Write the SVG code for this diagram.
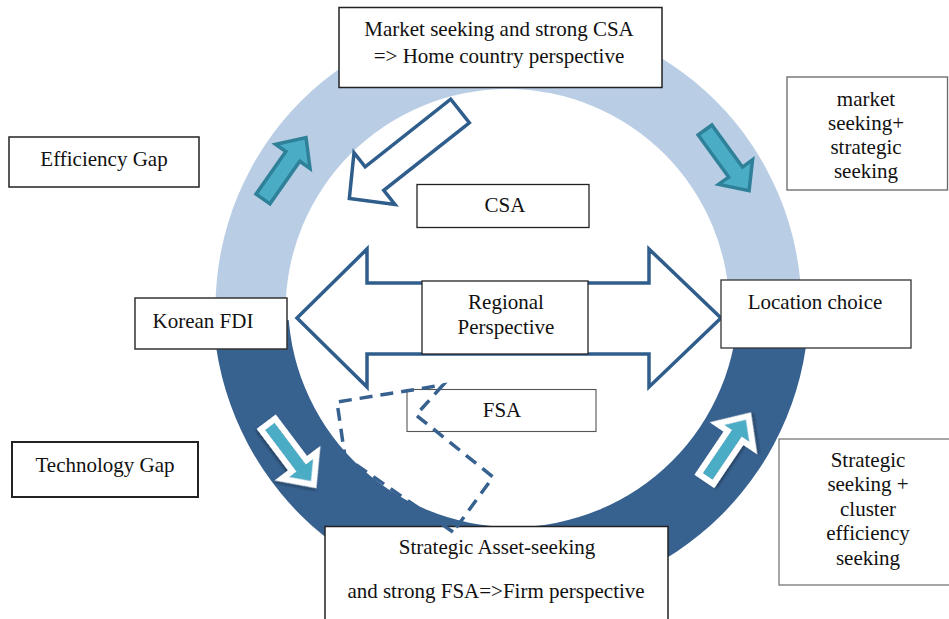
<svg xmlns="http://www.w3.org/2000/svg" width="949" height="619" viewBox="0 0 949 619">
<style>
text{font-family:"Liberation Serif","Times New Roman",serif;font-size:21px;fill:#111;text-anchor:middle}
.box{fill:#fff;stroke:#222;stroke-width:1.5}
.gbox{fill:#fff;stroke:#666;stroke-width:1.3}
.tealUp{fill:#4bacc6;stroke:#2e8199;stroke-width:3.5;stroke-linejoin:miter}
.tealLow{fill:#4bacc6;stroke:#fff;stroke-width:6;stroke-linejoin:miter}
.outline{fill:#fff;stroke:#2f5d8c;stroke-width:3.5;stroke-linejoin:miter}
.dash{fill:none;stroke:#37618f;stroke-width:3.5;stroke-dasharray:13 8}
</style>
<defs>
<clipPath id="clipTop"><rect x="0" y="0" width="949" height="320"/></clipPath>
<clipPath id="clipBot"><rect x="0" y="320" width="949" height="300"/></clipPath>
<path id="arrUp" d="M0,-8.5 L52,-8.5 L52,-21 L75,0 L52,21 L52,8.5 L0,8.5 Z"/>
<path id="arrLow" d="M0,-9 L52,-9 L52,-22 L76,0 L52,22 L52,9 L0,9 Z"/>
<filter id="shadow" x="-30%" y="-30%" width="160%" height="160%">
<feDropShadow dx="1" dy="2" stdDeviation="1.5" flood-color="#000" flood-opacity="0.35"/>
</filter>
</defs>

<g id="ring">
<path clip-path="url(#clipTop)" fill="#b9cde5" fill-rule="evenodd" d="M215.5,308 a293,293 0 1,0 586,0 a293,293 0 1,0 -586,0 Z M285.5,311 a222,222 0 1,0 444,0 a222,222 0 1,0 -444,0 Z"/>
<path clip-path="url(#clipBot)" fill="#37618f" fill-rule="evenodd" d="M213,304 a298,298 0 1,0 596,0 a298,298 0 1,0 -596,0 Z M288,302 a225,225 0 1,0 450,0 a225,225 0 1,0 -450,0 Z"/>
</g>

<g id="connectors">
<use href="#arrUp" class="tealUp" transform="translate(263,199) rotate(-55)"/>
<use href="#arrUp" class="tealUp" transform="translate(705,130) rotate(54)"/>
<use href="#arrLow" class="tealLow" filter="url(#shadow)" transform="translate(268,424) rotate(53)"/>
<use href="#arrLow" class="tealLow" filter="url(#shadow)" transform="translate(706,479) rotate(-56)"/>
<path class="outline" transform="translate(460,111) rotate(141.7)" d="M0,-15 L109,-15 L109,-33 L141,0 L109,33 L109,15 L0,15 Z"/>
<path class="outline" d="M297,318 L367,249 L367,283 L649,283 L649,249 L721,318 L649,387 L649,354 L367,354 L367,387 Z"/>
</g>

<g id="node-home">
<rect class="box" x="339" y="7.5" width="323" height="80"/>
<text x="499" y="36">Market seeking and strong CSA</text>
<text x="499" y="63">=&gt; Home country perspective</text>
</g>

<g id="node-efficiency">
<rect class="box" x="9" y="137" width="190" height="50"/>
<text x="104" y="166">Efficiency Gap</text>
</g>

<g id="node-korean">
<rect class="box" x="135" y="298" width="152" height="51" style="stroke:#333"/>
<text x="203" y="328">Korean FDI</text>
</g>

<g id="node-technology">
<rect class="box" x="12" y="442" width="186" height="55" style="stroke-width:2"/>
<text x="105" y="472">Technology Gap</text>
</g>

<g id="node-market">
<rect class="gbox" x="787" y="77" width="160.5" height="113"/>
<text x="866" y="106">market</text>
<text x="866" y="130">seeking+</text>
<text x="866" y="154">strategic</text>
<text x="866" y="178">seeking</text>
</g>

<g id="node-location">
<rect class="box" x="721" y="280" width="190" height="68" style="stroke:#333;stroke-width:1.3"/>
<text x="815" y="309">Location choice</text>
</g>

<g id="node-strategic">
<rect class="gbox" x="779" y="439" width="172" height="146" style="stroke:#777"/>
<text x="868" y="467">Strategic</text>
<text x="868" y="491">seeking +</text>
<text x="868" y="516">cluster</text>
<text x="868" y="540">efficiency</text>
<text x="868" y="565">seeking</text>
</g>

<g id="node-csa">
<rect class="box" x="417" y="184.5" width="172" height="43" style="stroke-width:1.3"/>
<text x="505" y="212">CSA</text>
</g>

<g id="node-regional">
<rect class="box" x="422" y="281" width="166" height="73" style="stroke-width:1.3"/>
<text x="506" y="309">Regional</text>
<text x="506" y="334">Perspective</text>
</g>

<g id="node-fsa">
<rect class="gbox" x="407" y="389.5" width="189" height="42" style="stroke:#555;stroke-width:1.1"/>
<text x="502" y="417">FSA</text>
</g>

<g id="node-firm">
<rect class="box" x="325" y="526.5" width="343" height="100"/>
<text x="497" y="554">Strategic Asset-seeking</text>
<text x="496" y="598">and strong FSA=&gt;Firm perspective</text>
</g>

<g id="dashed-arrow">
<path class="dash" d="M453,532 L345,457 L337,402 L443,385 L416,415 L493,477 Z"/>
</g>
</svg>
